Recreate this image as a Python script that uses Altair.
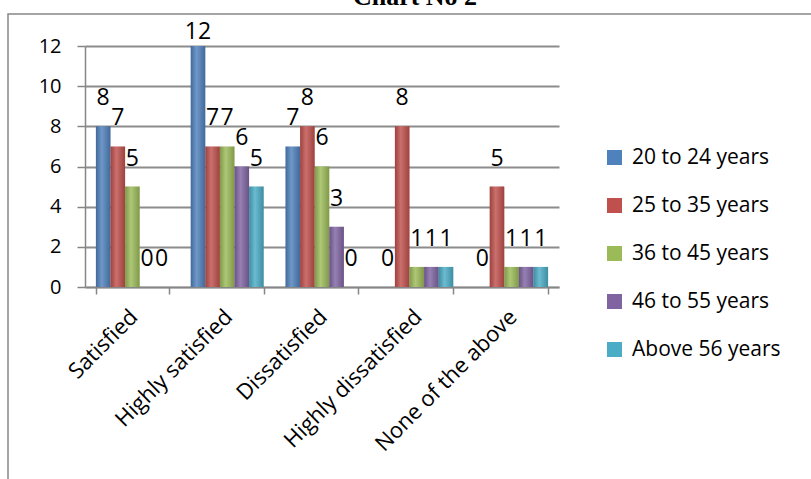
import altair as alt
import pandas as pd

categories = ["Satisfied", "Highly satisfied", "Dissatisfied", "Highly dissatisfied", "None of the above"]
series = ["20 to 24 years", "25 to 35 years", "36 to 45 years", "46 to 55 years", "Above 56 years"]
v_20_24 = [8, 12, 7, 0, 0]
v_25_35 = [7, 7, 8, 8, 5]
v_36_45 = [5, 7, 6, 1, 1]
v_46_55 = [0, 6, 3, 1, 1]
v_above_56 = [0, 5, 0, 1, 1]
colors = ["#4F81BD", "#C0504D", "#9BBB59", "#8064A2", "#4BACC6"]
y_ticks = [0, 2, 4, 6, 8, 10, 12]
title_text = "Chart No 2"

rows = []
for s, vals in zip(series, [v_20_24, v_25_35, v_36_45, v_46_55, v_above_56]):
    for c, v in zip(categories, vals):
        rows.append({"category": c, "series": s, "value": v})
df = pd.DataFrame(rows)

FONT = "Open Sans"
GREY = "#868686"

x_enc = alt.X("category:N", sort=categories,
              scale=alt.Scale(paddingInner=0.23, paddingOuter=0.115),
              axis=alt.Axis(title=None, labelAngle=-45, tickBand="extent",
                            labelFont=FONT, labelFontSize=22, labelColor="black",
                            tickSize=7, tickColor=GREY, domainColor=GREY,
                            domainWidth=1.5, tickWidth=1.5, labelPadding=12,
                            labelOffset=-6, labelLimit=400, grid=False))
xo_enc = alt.XOffset("series:N", sort=series, scale=alt.Scale(paddingInner=0, paddingOuter=0))
y_scale = alt.Scale(domain=[0, 12], nice=False)

base = alt.Chart(df)

bars = base.mark_bar().encode(
    x=x_enc,
    xOffset=xo_enc,
    y=alt.Y("value:Q", scale=y_scale,
            axis=alt.Axis(title=None, values=y_ticks, labelFont=FONT, labelFontSize=20,
                          labelColor="black", tickSize=8, tickColor=GREY, tickWidth=1.5,
                          domainColor=GREY, domainWidth=1.5, labelPadding=16,
                          grid=True, gridColor="#8c8c8c", gridWidth=2)),
    color=alt.Color("series:N", sort=series,
                    scale=alt.Scale(domain=series, range=colors),
                    legend=alt.Legend(title=None, orient="none", legendX=519, legendY=101,
                                      symbolType="square", symbolSize=225,
                                      symbolStrokeWidth=0, labelFont=FONT,
                                      labelFontSize=21, labelColor="black",
                                      labelOffset=7, rowPadding=26, labelLimit=400)),
)

shade = base.mark_bar(
    color=alt.LinearGradient(
        gradient="linear",
        stops=[alt.GradientStop(color="black", offset=0),
               alt.GradientStop(color="white", offset=0.4),
               alt.GradientStop(color="black", offset=1)],
        x1=0, x2=1, y1=0, y2=0),
    opacity=0.18,
).encode(x=x_enc, xOffset=xo_enc, y=alt.Y("value:Q", scale=y_scale))

labels = base.transform_calculate(
    label_y="min(datum.value + 0.8, 12.1)"
).mark_text(font=FONT, fontSize=23, color="black", baseline="bottom", align="center").encode(
    x=x_enc, xOffset=xo_enc,
    y=alt.Y("label_y:Q", scale=y_scale),
    text="value:Q",
)

frame = alt.Chart(pd.DataFrame({"a": [0]})).mark_rect(
    fillOpacity=0, stroke=GREY, strokeWidth=1.5
).encode(x=alt.value(-77), x2=alt.value(760), y=alt.value(-32), y2=alt.value(460))

title = alt.Chart(pd.DataFrame({"t": [title_text]})).mark_text(
    font="Liberation Serif", fontSize=26, fontWeight="bold", baseline="alphabetic",
    align="center", color="black"
).encode(text="t:N", x=alt.value(330), y=alt.value(-41))

chart = alt.layer(frame, bars, shade, labels, title).properties(
    width=474, height=241,
    autosize=alt.AutoSizeParams(type="none"),
    padding={"left": 85, "top": 46, "right": 252, "bottom": 192},
    background="white",
).configure_view(stroke=None)

chart.save("out.html", embed_options={"renderer": "svg", "actions": False})
